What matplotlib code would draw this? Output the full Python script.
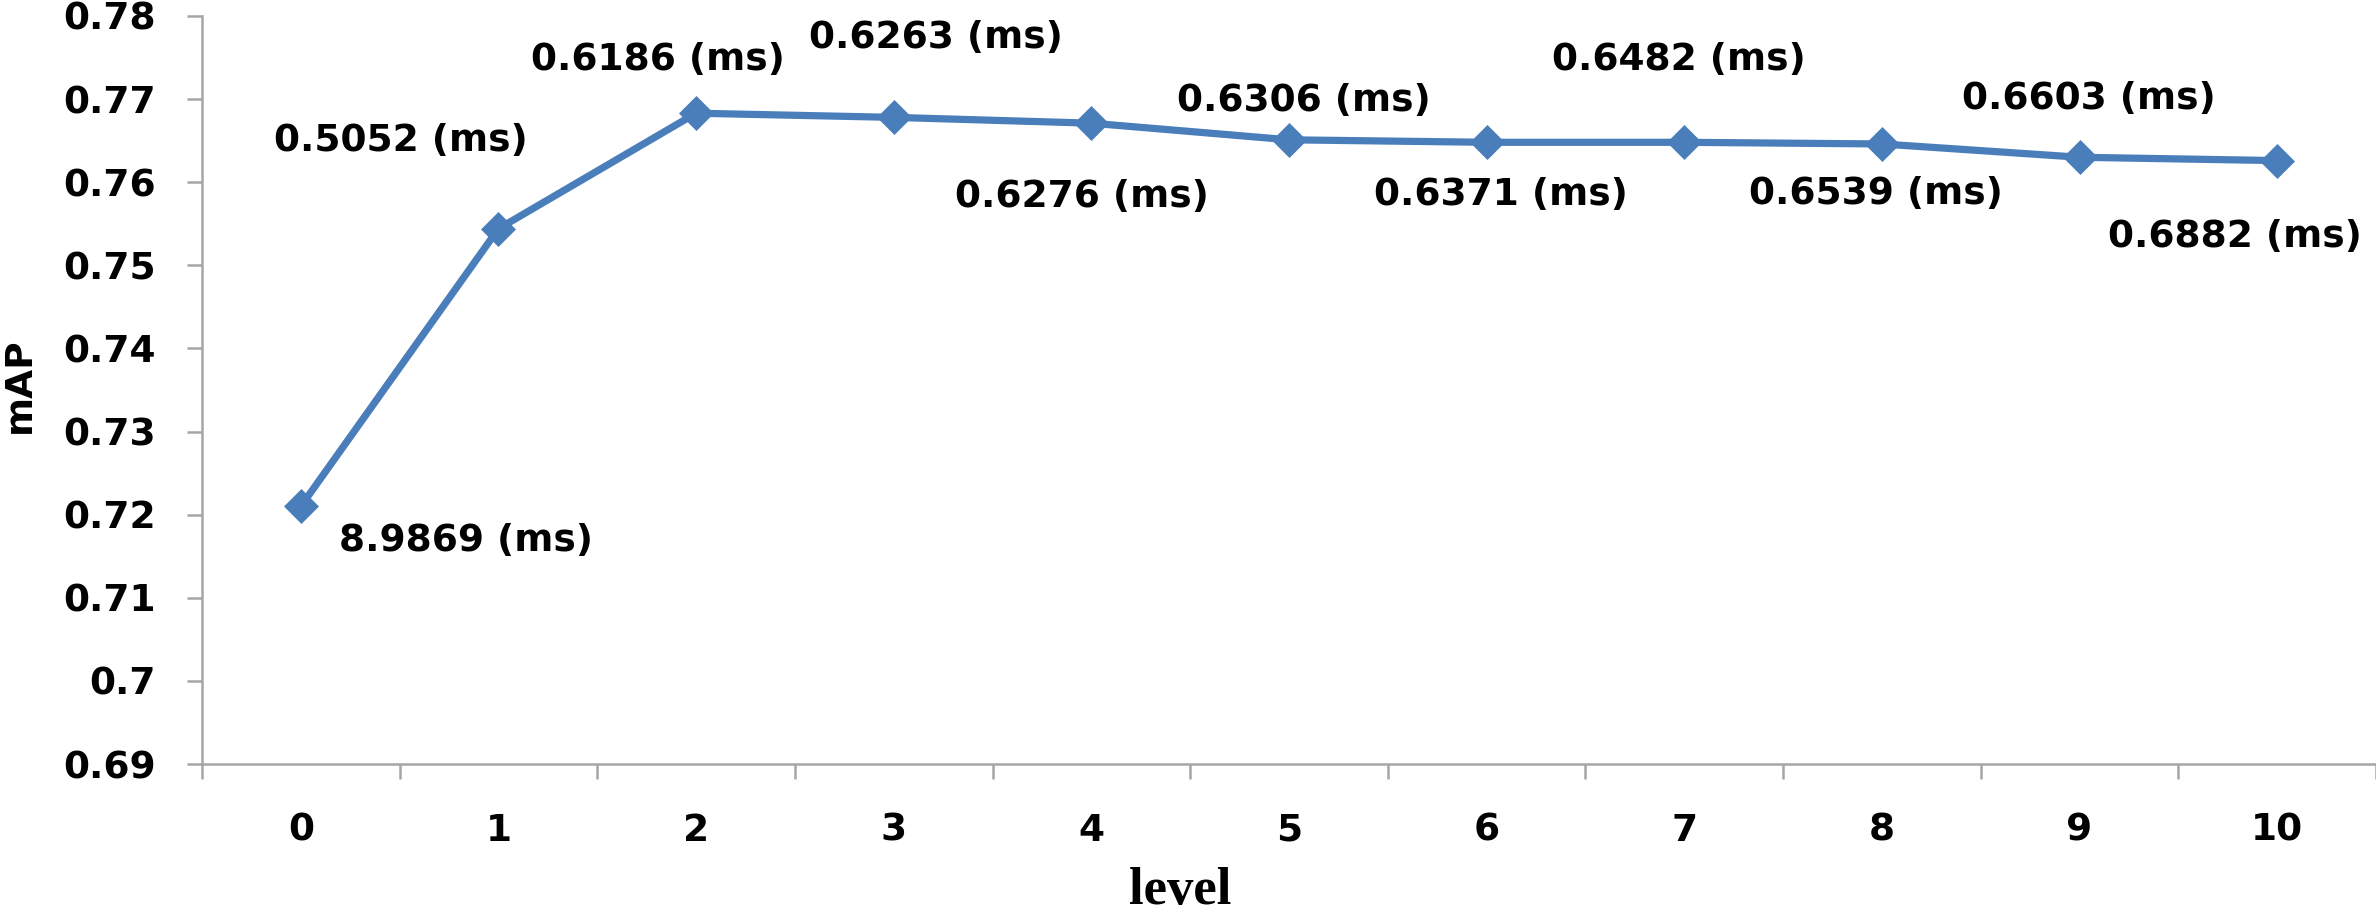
import matplotlib
matplotlib.use("Agg")
import matplotlib.pyplot as plt
from matplotlib.ticker import MultipleLocator, FixedLocator

# data
levels = [0, 1, 2, 3, 4, 5, 6, 7, 8, 9, 10]
map_values = [0.7210, 0.7544, 0.7683, 0.7678, 0.7671, 0.7651, 0.7648, 0.7648, 0.7646, 0.7630, 0.7626]
time_labels = ["8.9869 (ms)", "0.5052 (ms)", "0.6186 (ms)", "0.6263 (ms)", "0.6276 (ms)",
               "0.6306 (ms)", "0.6371 (ms)", "0.6482 (ms)", "0.6539 (ms)", "0.6603 (ms)",
               "0.6882 (ms)"]
# where each label sits relative to its point (pixels, x right / y up)
label_offsets = [(165, -35), (-98, 88), (-38, 53), (42, 79), (-9, -74), (15, 39),
                 (14, -53), (-5, 82), (-6, -50), (9, 58), (-42, -76)]

LINE = "#4A7EBB"
AXIS = "#A6A6A6"
FONT = "DejaVu Sans"

fig = plt.figure(figsize=(23.76, 9.17), dpi=100)
ax = fig.add_axes([0.085, 0.1668, 0.915, 0.8158])

ax.plot(levels, map_values, color=LINE, linewidth=5.2, marker="D", markersize=17,
        markerfacecolor=LINE, markeredgecolor=LINE, markeredgewidth=0.5, zorder=3)

for x, y, txt, (dx, dy) in zip(levels, map_values, time_labels, label_offsets):
    ax.annotate(txt, (x, y), xytext=(dx, dy), textcoords="offset pixels",
                ha="center", va="center", fontsize=27, fontweight="bold",
                family=FONT, color="black")

ax.set_xlim(-0.5, 10.5)
ax.set_ylim(0.69, 0.78)
ax.yaxis.set_major_locator(MultipleLocator(0.01))
ax.set_yticklabels([f"{v:g}" for v in ax.get_yticks()])

ax.set_xticks(levels)
ax.set_xticklabels([str(l) for l in levels])
ax.xaxis.set_minor_locator(FixedLocator([l - 0.5 for l in levels] + [10.5]))

for s in ["top", "right"]:
    ax.spines[s].set_visible(False)
for s in ["left", "bottom"]:
    ax.spines[s].set_color(AXIS)
    ax.spines[s].set_linewidth(1.8)

ax.tick_params(axis="x", which="major", length=0, pad=35)
ax.tick_params(axis="x", which="minor", length=11, width=1.8, color=AXIS, direction="out")
ax.tick_params(axis="y", which="major", length=11, width=1.8, color=AXIS, direction="out", pad=22)
for lab in ax.get_xticklabels() + ax.get_yticklabels():
    lab.set_fontsize(27)
    lab.set_fontweight("bold")
    lab.set_family(FONT)

fig.text(0.0085, 0.58, "mAP", rotation=90, ha="center", va="center",
         fontsize=27, fontweight="bold", family=FONT)
fig.text(0.4966, 0.002, "level", ha="center", va="bottom",
         fontsize=38, fontweight="bold", family="Liberation Serif")

fig.savefig("out.png", dpi=100)
